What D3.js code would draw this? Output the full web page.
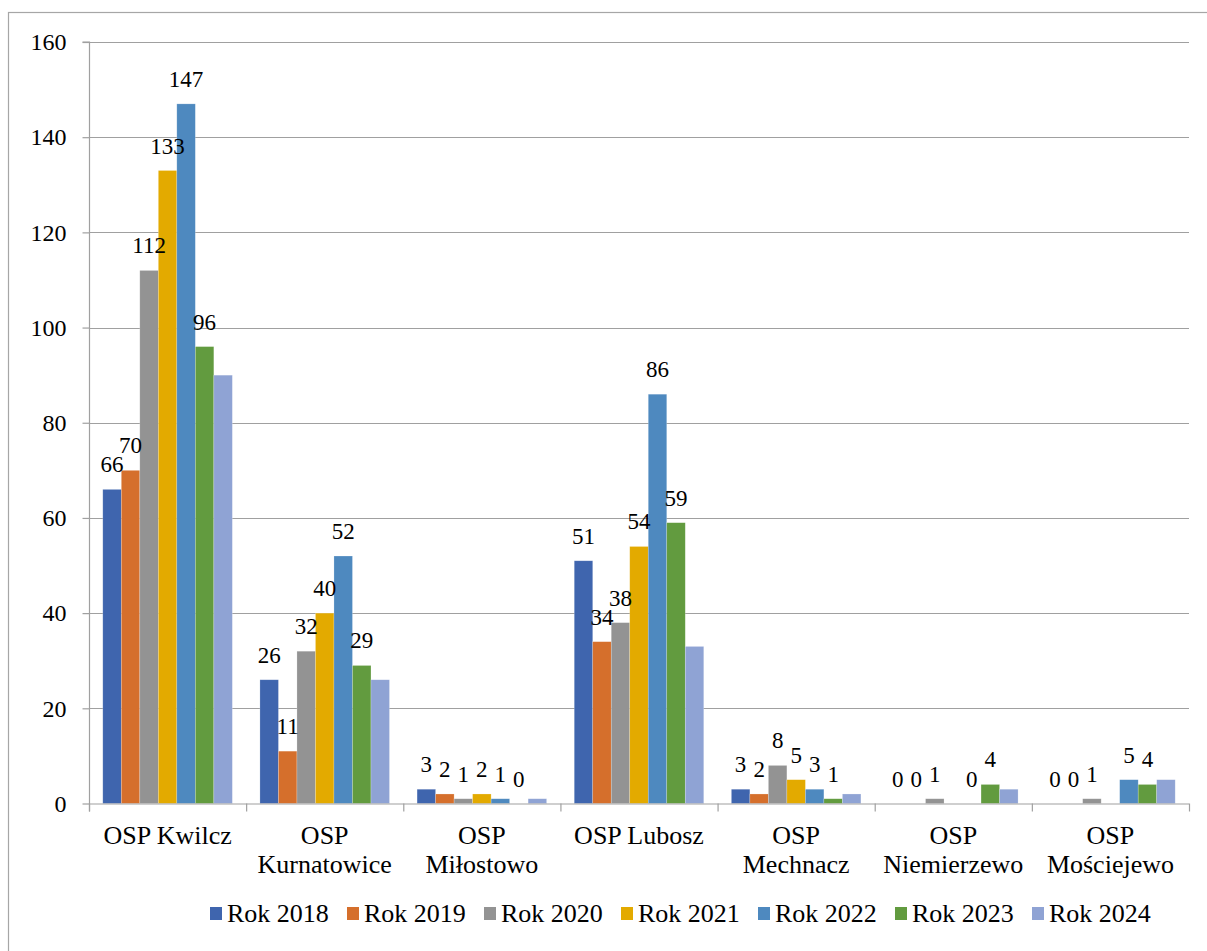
<!DOCTYPE html>
<html>
<head>
<meta charset="utf-8">
<script src="https://cdn.jsdelivr.net/npm/d3@7"></script>
<style>
  html, body { margin: 0; padding: 0; background: #fff; }
  svg { display: block; }
</style>
</head>
<body>
<svg id="chart" width="1207" height="951"></svg>
<script>
const categories = [["OSP Kwilcz"], ["OSP", "Kurnatowice"], ["OSP", "Miłostowo"], ["OSP Lubosz"], ["OSP", "Mechnacz"], ["OSP", "Niemierzewo"], ["OSP", "Mościejewo"]];
const seriesNames = ["Rok 2018", "Rok 2019", "Rok 2020", "Rok 2021", "Rok 2022", "Rok 2023", "Rok 2024"];
const rok2018 = [66, 26, 3, 51, 3, 0, 0];
const rok2019 = [70, 11, 2, 34, 2, 0, 0];
const rok2020 = [112, 32, 1, 38, 8, 1, 1];
const rok2021 = [133, 40, 2, 54, 5, null, null];
const rok2022 = [147, 52, 1, 86, 3, 0, 5];
const rok2023 = [96, 29, 0, 59, 1, 4, 4];
const rok2024 = [90, 26, 1, 33, 2, 3, 5];
const seriesValues = [rok2018, rok2019, rok2020, rok2021, rok2022, rok2023, rok2024];
const showLabels = [true, true, true, true, true, true, false];
const yTicks = [0, 20, 40, 60, 80, 100, 120, 140, 160];
const colors = ["#3f65ae", "#d56f2c", "#939393", "#e3aa00", "#4e89bf", "#629b3f", "#8fa3d4"];

(function () {
const FONT = '"Liberation Serif"';
const svg = d3.select("#chart");
const pl = 89, pr = 1189, pt = 42, pb = 803.5;

// outer frame
svg.append("rect").attr("x", 8.5).attr("y", 12.5).attr("width", 1220).attr("height", 960)
  .attr("fill", "none").attr("stroke", "#a6a6a6").attr("stroke-width", 1.2);

const y = d3.scaleLinear().domain([0, 160]).range([pb, pt]);
const x0 = d3.scaleBand().domain(d3.range(categories.length)).range([pl, pr]).padding(0);
const gapHalf = 13.8;
const x1 = d3.scaleBand().domain(d3.range(seriesNames.length)).range([gapHalf, x0.bandwidth() - gapHalf]).padding(0);

// gridlines
svg.append("g").selectAll("line").data(yTicks.filter(d => d > 0)).join("line")
  .attr("x1", pl).attr("x2", pr)
  .attr("y1", d => Math.round(y(d)) + 0.5).attr("y2", d => Math.round(y(d)) + 0.5)
  .attr("stroke", "#a0a0a0").attr("stroke-width", 1.2);

// y axis
const yAxis = d3.axisLeft(y).tickValues(yTicks).tickSize(7).tickPadding(16);
const gy = svg.append("g").attr("transform", `translate(${pl + 0.5},0)`).call(yAxis);
gy.attr("font-family", null);
gy.select(".domain").attr("stroke", "#a0a0a0").attr("stroke-width", 1.2).attr("d", `M-7,${pt}H0V${pb + 8}`);
gy.selectAll(".tick line").attr("stroke", "#a0a0a0").attr("stroke-width", 1.2);
gy.selectAll(".tick text").style("font-size", "24px").attr("fill", "#000").style("font-family", FONT);

// bars
const groups = svg.append("g").selectAll("g").data(seriesValues).join("g")
  .attr("fill", (d, i) => colors[i]);
groups.selectAll("rect").data((vals, si) => vals.map((v, ci) => ({ v, ci, si })).filter(d => d.v !== null && d.v > 0)).join("rect")
  .attr("x", d => x0(d.ci) + x1(d.si))
  .attr("width", x1.bandwidth())
  .attr("y", d => y(d.v))
  .attr("height", d => y(0) - y(d.v))
  .attr("stroke", "rgba(255,255,255,0.35)").attr("stroke-width", 0.6);

// x axis baseline and ticks
const gx = svg.append("g");
gx.append("line").attr("x1", pl).attr("x2", pr).attr("y1", pb + 0.5).attr("y2", pb + 0.5)
  .attr("stroke", "#a0a0a0").attr("stroke-width", 1.2);
gx.selectAll("line.tk").data(d3.range(categories.length + 1)).join("line").attr("class", "tk")
  .attr("x1", d => pl + d * x0.bandwidth() + 0.5).attr("x2", d => pl + d * x0.bandwidth() + 0.5)
  .attr("y1", pb).attr("y2", pb + 8)
  .attr("stroke", "#a0a0a0").attr("stroke-width", 1.2);

// category labels
const catG = svg.append("g").selectAll("text").data(categories).join("text")
  .attr("x", (d, i) => x0(i) + x0.bandwidth() / 2)
  .attr("y", 844)
  .attr("text-anchor", "middle").style("font-size", "26px").style("font-family", FONT).attr("fill", "#000");
catG.selectAll("tspan").data(d => d).join("tspan")
  .attr("x", function () { return d3.select(this.parentNode).attr("x"); })
  .attr("dy", (d, i) => i === 0 ? 0 : 29)
  .text(d => d);

// data labels
const labelG = svg.append("g");
seriesValues.forEach((vals, si) => {
  if (!showLabels[si]) return;
  vals.forEach((v, ci) => {
    if (v === null) return;
    labelG.append("text")
      .attr("x", x0(ci) + x1(si) + x1.bandwidth() / 2)
      .attr("y", y(v) - 17)
      .attr("text-anchor", "middle").style("font-size", "23px").style("font-family", FONT).attr("fill", "#000")
      .text(v);
  });
});

// legend
const legend = svg.append("g").selectAll("g").data(seriesNames).join("g")
  .attr("transform", (d, i) => `translate(${210 + i * 137},0)`);
legend.append("rect").attr("x", 0).attr("y", 907).attr("width", 12).attr("height", 13)
  .attr("fill", (d, i) => colors[i]);
legend.append("text").attr("x", 17).attr("y", 922).style("font-size", "26px").style("font-family", FONT)
  .attr("fill", "#000").text(d => d);
})();
</script>
</body>
</html>
